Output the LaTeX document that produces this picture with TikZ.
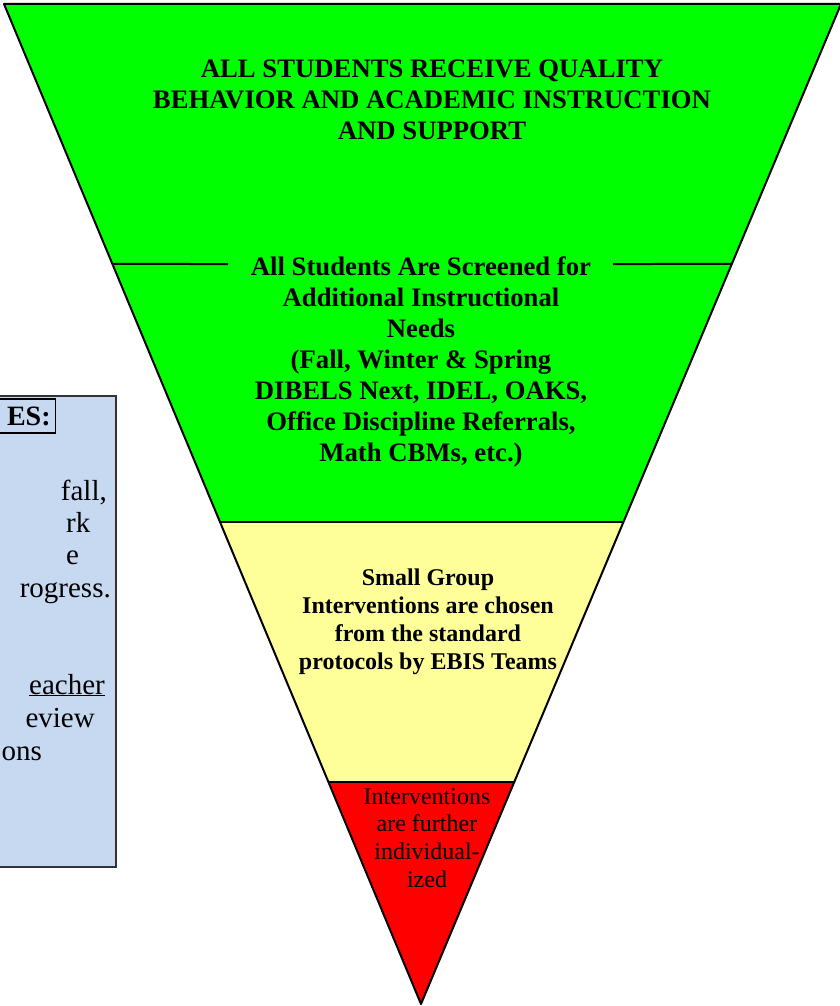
\documentclass[tikz,border=0pt]{standalone}
\usepackage{fontspec}
\setmainfont{Liberation Serif}
\usetikzlibrary{calc}
\definecolor{tiergreen}{HTML}{00FF00}
\definecolor{tieryellow}{HTML}{FFFF99}
\definecolor{tierred}{HTML}{FF0000}
\definecolor{noteblue}{HTML}{C6D9F1}
\begin{document}
\begin{tikzpicture}[x=1pt,y=-1pt,
  edge/.style={line width=2pt,line join=round},
  bigtxt/.style={align=center,font=\bfseries\fontsize{26.7}{31}\selectfont,inner sep=0pt},
  midtxt/.style={align=center,font=\bfseries\fontsize{24}{28}\selectfont,inner sep=0pt},
  redtxt/.style={align=center,font=\fontsize{24}{27.7}\selectfont,inner sep=0pt},
  notetxt/.style={font=\fontsize{29}{32}\selectfont,inner sep=0pt}]
\useasboundingbox (0,0) rectangle (840,1006);
\clip (0,0) rectangle (840,1006);
% note box
\draw[fill=noteblue,draw=black!80,line width=1.2pt] (-10,396) rectangle (116,867);
\node[draw=black,line width=1.5pt,minimum height=34pt,anchor=east,inner sep=0pt,text width=66pt,align=right,font=\bfseries\fontsize{28}{30}\selectfont] (head) at (56,416) {ES:\,};
\node[notetxt,anchor=base east] (n1) at (107,500) {fall,};
\node[notetxt,anchor=base west] (n2) at (66,532) {rk};
\node[notetxt,anchor=base west] (n3) at (66,564) {e};
\node[notetxt,anchor=base east] (n4) at (111,597) {rogress.};
\node[notetxt,anchor=base east] (n5) at (105,694) {\underline{eacher}};
\node[notetxt,anchor=base east] (n6) at (95,727) {eview};
\node[notetxt,anchor=base east] (n7) at (42,760) {ons};
% triangle
\coordinate (TL) at (4,4);
\coordinate (TR) at (841,4);
\coordinate (A) at (421,1004);
\path (TL) -- (A) coordinate[pos=0.26] (L1) coordinate[pos=0.518] (L2) coordinate[pos=0.778] (L3);
\path (TR) -- (A) coordinate[pos=0.26] (R1) coordinate[pos=0.518] (R2) coordinate[pos=0.778] (R3);
\fill[tiergreen] (TL) -- (TR) -- (R2) -- (L2) -- cycle;
\fill[tieryellow] (L2) -- (R2) -- (R3) -- (L3) -- cycle;
\fill[tierred] (L3) -- (R3) -- (A) -- cycle;
\coordinate (g1) at (228,264);
\coordinate (g2) at (613,264);
\draw[edge] (L1) -- (g1);
\draw[edge] (g2) -- (R1);
\draw[edge] (L2) -- (R2);
\draw[edge] (L3) -- (R3);
\draw[edge] (TL) -- (TR) -- (A) -- cycle;
% texts
\node[bigtxt] (t1) at (432,100) {ALL STUDENTS RECEIVE QUALITY\\BEHAVIOR AND ACADEMIC INSTRUCTION\\AND SUPPORT};
\node[bigtxt] (t2) at (421,362) {All Students Are Screened for\\Additional Instructional\\Needs\\(Fall, Winter \& Spring\\DIBELS Next, IDEL, OAKS,\\Office Discipline Referrals,\\Math CBMs, etc.)};
\node[midtxt] (t3) at (428,622) {Small Group\\Interventions are chosen\\from the standard\\protocols by EBIS Teams};
\node[redtxt] (t4) at (427,838) {Interventions\\are further\\individual-\\ized};
\end{tikzpicture}
\end{document}
